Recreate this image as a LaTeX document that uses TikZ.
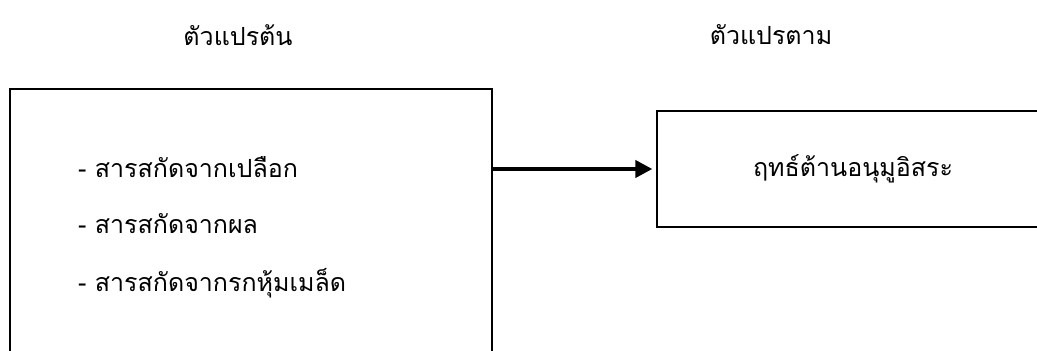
\documentclass[tikz,border=0pt]{standalone}
\usepackage{fontspec}
\newfontfamily\thaifont[Script=Thai]{Loma}
\usetikzlibrary{arrows.meta}
\begin{document}
\begin{tikzpicture}[x=1pt,y=1pt,
  box/.style={draw=black, line width=1.3pt, rectangle, inner sep=0pt},
  lbl/.style={font=\thaifont\fontsize{25}{29}\selectfont, inner sep=0pt},
  item/.style={lbl, anchor=west},
  conn/.style={line width=4pt, -{Triangle[length=17pt,width=17pt]}}]
\useasboundingbox (0,0) rectangle (1037,-351);
\clip (0,0) rectangle (1037,-351);
\node[box, minimum width=482pt, minimum height=320pt] (leftbox) at (251,-249) {};
\node[box, minimum width=420pt, minimum height=116pt] (rightbox) at (867,-169) {};
\node[lbl] (hdrL) at (238,-35) {ตัวแปรต้น};
\node[lbl] (hdrR) at (771,-35) {ตัวแปรตาม};
\node[item] (i1) at (78,-167) {- สารสกัดจากเปลือก};
\node[item] (i2) at (78,-224) {- สารสกัดจากผล};
\node[item] (i3) at (78,-283) {- สารสกัดจากรกหุ้มเมล็ด};
\node[lbl] (dep) at (853,-169) {ฤทธ์ต้านอนุมูอิสระ};
\draw[conn, shorten >=4pt] (leftbox.east |- rightbox.west) -- (rightbox.west);
\end{tikzpicture}
\end{document}
